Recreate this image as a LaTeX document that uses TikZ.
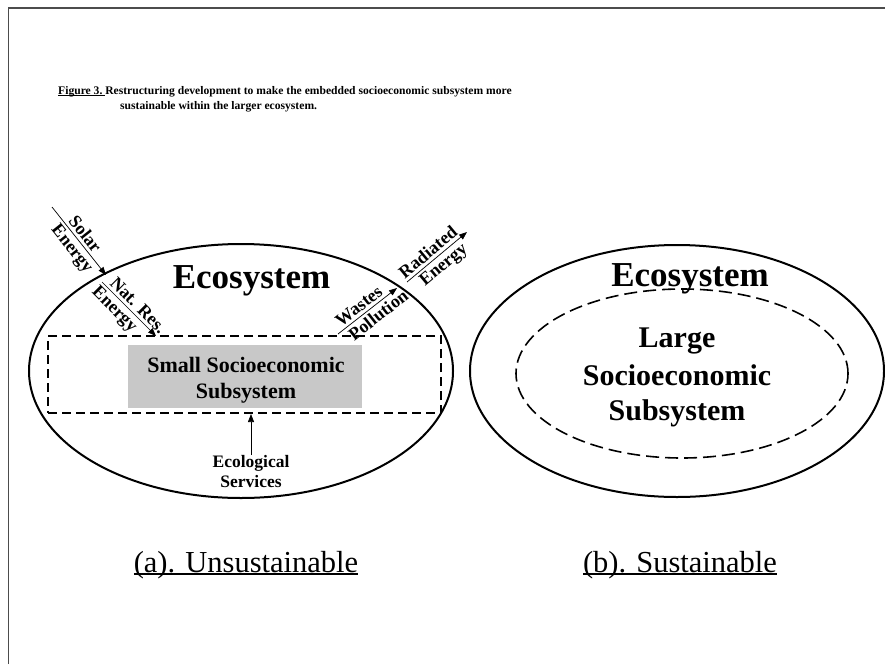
\documentclass[tikz,border=0pt]{standalone}
\usepackage{fontspec}
\setmainfont{Liberation Serif}
\usetikzlibrary{arrows.meta,shapes.geometric}
% underline drawn as a rule of chosen depth and thickness
\newcommand\thickul[3]{\setbox0\hbox{#3}\rlap{\rule[-#1]{\wd0}{#2}}\box0\relax}
\begin{document}
\begin{tikzpicture}[x=1pt,y=-1pt,
  frame/.style={draw=black!70,line width=1.2pt},
  eco/.style={ellipse,draw,line width=2pt,inner sep=0pt},
  flow/.style={line width=0.7pt,-{Triangle[length=8pt,width=6pt]}},
  flowlbl/.style={font=\bfseries\fontsize{18}{18}\selectfont,inner sep=3pt,sloped},
  bigtitle/.style={font=\bfseries\fontsize{35}{35}\selectfont,inner sep=0pt,anchor=base},
  subtext/.style={font=\bfseries\fontsize{22}{22}\selectfont,inner sep=0pt,anchor=base},
  largetext/.style={font=\bfseries\fontsize{30}{30}\selectfont,inner sep=0pt,anchor=base},
  servtext/.style={font=\bfseries\fontsize{17.5}{17.5}\selectfont,inner sep=0pt,anchor=base},
  caption/.style={font=\fontsize{30.5}{30.5}\selectfont,inner sep=0pt,anchor=base},
  figtitle/.style={font=\bfseries\fontsize{11.6}{11.6}\selectfont,inner sep=0pt,anchor=base west}]

\useasboundingbox[fill=white] (0,0) rectangle (885,664);

% page frame
\draw[frame] (8.5,664) -- (8.5,8) -- (885,8);

% title
\node[figtitle] (title1) at (58,94)
  {\thickul{1.6pt}{0.8pt}{Figure 3.\ }Restructuring development to make the embedded socioeconomic subsystem more};
\node[figtitle] (title2) at (120,109)
  {sustainable within the larger ecosystem.};

% ---------- (a) unsustainable ----------
\node[eco,minimum width=424pt,minimum height=254pt] (ecoA) at (241,371) {};
\node[draw,dash pattern=on 9pt off 5pt,line width=2pt,inner sep=0pt,
      minimum width=393pt,minimum height=77pt] (subA) at (244.5,374.5) {};
\node[fill={rgb,255:red,200;green,200;blue,200},inner sep=0pt,
      minimum width=234pt,minimum height=63pt] (smallsub) at (245,376.5) {};
\node[bigtitle] (ecotitleA) at (251.5,288) {Ecosystem};
\node[subtext] (smallA) at (246,372) {Small Socioeconomic};
\node[subtext] (smallB) at (246,398) {Subsystem};

% flows across the ecosystem boundary
\coordinate (solarS) at (52,207);
\coordinate (solarE) at (106,275);
\coordinate (natS) at (102,282);
\coordinate (natE) at (156,336);
\coordinate (wasteS) at (338,334);
\coordinate (wasteE) at (397,288);
\coordinate (radS) at (407,282);
\coordinate (radE) at (467,232);

\draw[flow] (solarS) -- node[flowlbl,above,pos=0.48] (solarL) {Solar}
                        node[flowlbl,below,pos=0.52] (solarL2) {Energy} (solarE);
\draw[flow] (natS) -- node[flowlbl,above,pos=0.55] (natL) {Nat. Res.}
                      node[flowlbl,below,pos=0.37] (natL2) {Energy} (natE);
\draw[flow] (wasteS) -- node[flowlbl,above,pos=0.45] (wasteL) {Wastes}
                        node[flowlbl,below,pos=0.58] (wasteL2) {Pollution} (wasteE);
\draw[flow] (radS) -- node[flowlbl,above,pos=0.45] (radL) {Radiated}
                      node[flowlbl,below,pos=0.5] (radL2) {Energy} (radE);

% ecological services feeding the subsystem
\node[servtext] (servA) at (251,467) {Ecological};
\node[servtext] (servB) at (251,487) {Services};
\coordinate (servTop) at (251,455);
\coordinate (servTip) at (251,414);
\draw[flow] (servTop) -- (servTip);

\node[caption] (capA) at (246,572) {\thickul{2.5pt}{1.5pt}{(a). Unsustainable}};

% ---------- (b) sustainable ----------
\node[eco,minimum width=414pt,minimum height=252pt] (ecoB) at (677,371) {};
\node[ellipse,draw,dash pattern=on 13pt off 6pt,line width=1.6pt,inner sep=0pt,
      minimum width=332pt,minimum height=169pt] (subB) at (682,373.5) {};
\node[bigtitle] (ecotitleB) at (690,286) {Ecosystem};
\node[largetext] (largeA) at (677,347) {Large};
\node[largetext] (largeB) at (677,385) {Socioeconomic};
\node[largetext] (largeC) at (677,420) {Subsystem};

\node[caption] (capB) at (680,572) {\thickul{2.5pt}{1.5pt}{(b). Sustainable}};
\end{tikzpicture}
\end{document}
